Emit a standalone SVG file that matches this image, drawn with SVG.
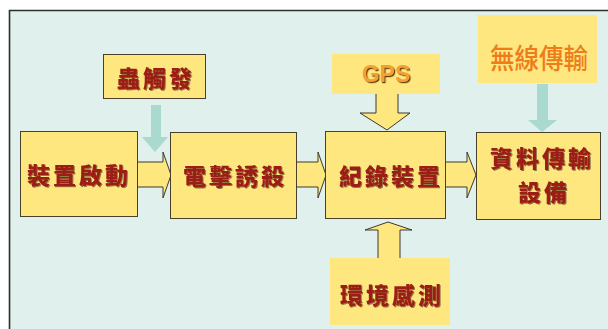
<svg xmlns="http://www.w3.org/2000/svg" width="608" height="329" viewBox="0 0 608 329">
  <defs>
    <filter id="sh" x="-10%" y="-10%" width="130%" height="140%">
      <feDropShadow dx="1" dy="1" stdDeviation="0.3" flood-color="#3a1a0a" flood-opacity="0.55"/>
    </filter>
    <filter id="shg" x="-10%" y="-10%" width="130%" height="140%">
      <feDropShadow dx="1.2" dy="1.2" stdDeviation="0.3" flood-color="#5a2a00" flood-opacity="0.9"/>
    </filter>
  </defs>
  <style>
    .box { fill: #fde77e; stroke: #4a3f2a; stroke-width: 1; }
    .plain { fill: #fde77e; stroke: none; }
    .yarrow { fill: #fde77e; stroke: #3d3a30; stroke-width: 1; stroke-linejoin: miter; }
    .tarrow { fill: #a9d9cf; stroke: none; }
    .lbl { font-family: "Noto Sans CJK TC", "Noto Sans CJK SC", sans-serif; font-weight: 900; font-size: 23px; fill: #9c1e14; text-anchor: middle; dominant-baseline: central; letter-spacing: 3px; filter: url(#sh); }
    .wl { font-family: "Noto Sans CJK TC", sans-serif; font-weight: 500; font-size: 28px; fill: #ee7c1a; text-anchor: middle; dominant-baseline: central; }
    .gps { font-family: "Liberation Sans", Arial, sans-serif; font-weight: 700; font-size: 23px; fill: #f5a030; text-anchor: middle; dominant-baseline: central; filter: url(#shg); }
  </style>

  <!-- background frame -->
  <rect x="0" y="0" width="608" height="329" fill="#ffffff"/>
  <rect x="9" y="10" width="610" height="330" fill="#dff0ed"/>
  <path d="M9.5,330 V10.5 H608" fill="none" stroke="#2e2e2e" stroke-width="1.6"/>

  <g id="connectors">
    <!-- 裝置啟動 -> 電擊誘殺 -->
    <polygon class="yarrow" points="137,162 163,162 163,152 171,175 163,198 163,187 137,187"/>
    <!-- 電擊誘殺 -> 紀錄裝置 -->
    <polygon class="yarrow" points="296,162 318,162 318,152 326,175 318,198 318,187 296,187"/>
    <!-- 紀錄裝置 -> 資料傳輸設備 -->
    <polygon class="yarrow" points="445,162 467,162 467,152 476,175 467,198 467,187 445,187"/>
    <!-- GPS -> 紀錄裝置 -->
    <polygon class="yarrow" points="376,92 376,113 360,113 387,130 410,113 398,113 398,92"/>
    <!-- 環境感測 -> 紀錄裝置 -->
    <polygon class="yarrow" points="378,260 378,230 365,230 388,222 412,230 400,230 400,260"/>
    <!-- 蟲觸發 -> 電擊誘殺 -->
    <polygon class="tarrow" points="151,105 161,105 161,137 168,137 155,152 142,137 151,137"/>
    <!-- 無線傳輸 -> 資料傳輸設備 -->
    <polygon class="tarrow" points="537,84 548,84 548,120 557,120 542,132 528,120 537,120"/>
  </g>

  <g id="n-trigger">
    <rect class="box" x="103.5" y="54.5" width="102" height="44"/>
    <text class="lbl" x="156" y="77">蟲觸發</text>
  </g>
  <g id="n-gps">
    <rect class="plain" x="332" y="54" width="108" height="40"/>
    <text class="gps" x="386" y="74">GPS</text>
  </g>
  <g id="n-wireless">
    <rect class="plain" x="478" y="15" width="119" height="68"/>
    <text class="wl" x="539" y="57" textLength="98" lengthAdjust="spacingAndGlyphs">無線傳輸</text>
  </g>
  <g id="n-start">
    <rect class="box" x="20.5" y="131.5" width="117" height="85"/>
    <text class="lbl" x="79" y="174">裝置啟動</text>
  </g>
  <g id="n-shock">
    <rect class="box" x="170.5" y="132.5" width="126" height="86"/>
    <text class="lbl" x="235" y="175">電擊誘殺</text>
  </g>
  <g id="n-record">
    <rect class="box" x="325.5" y="131.5" width="120" height="87"/>
    <text class="lbl" x="391" y="175">紀錄裝置</text>
  </g>
  <g id="n-transfer">
    <rect class="box" x="476.5" y="132.5" width="124" height="87"/>
    <text class="lbl" x="542" y="157">資料傳輸</text>
    <text class="lbl" x="544" y="191">設備</text>
  </g>
  <g id="n-env">
    <rect class="plain" x="330" y="258" width="120" height="67"/>
    <text class="lbl" x="392" y="294">環境感測</text>
  </g>
</svg>
